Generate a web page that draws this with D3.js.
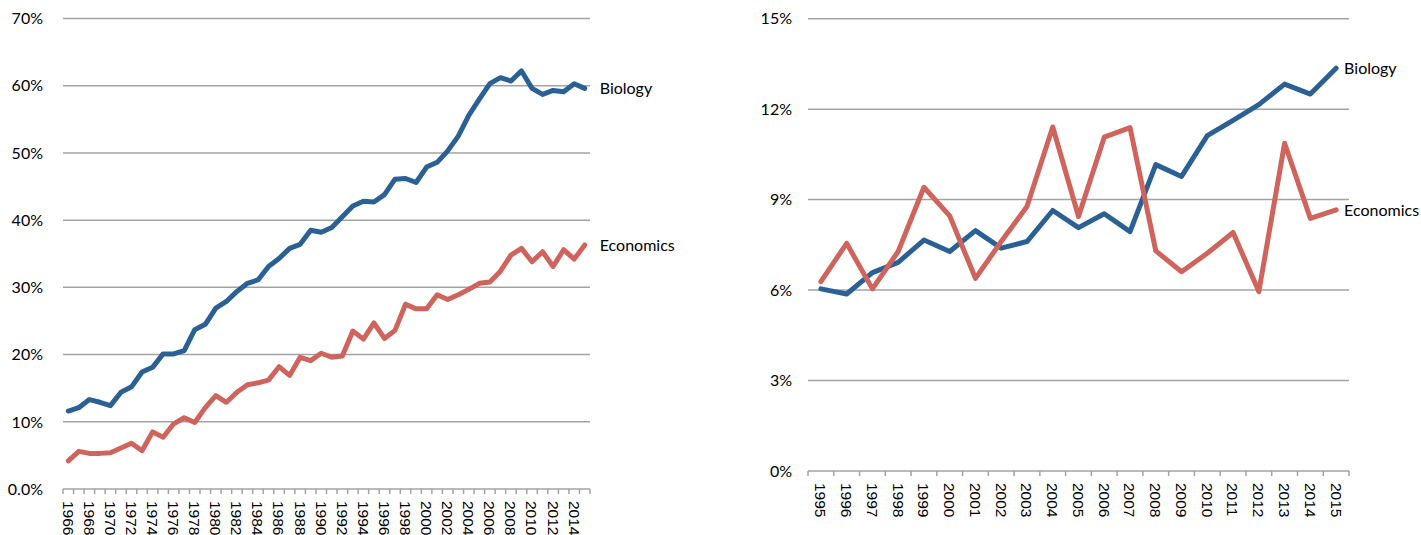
<!DOCTYPE html>
<html>
<head>
<meta charset="utf-8">
<script src="https://cdn.jsdelivr.net/npm/d3@7/dist/d3.min.js"></script>
<style>
  html, body { margin: 0; padding: 0; background: #fff; }
  svg { display: block; }
</style>
</head>
<body>
<svg id="chart" width="1421" height="535"></svg>
<script>
// ---------- Data ----------
const yearsLeft = d3.range(1966, 2016).map(String);
const biologyLeft = [11.6, 12.1, 13.3, 12.9, 12.4, 14.4, 15.2, 17.4, 18.1, 20.1,
  20.1, 20.6, 23.7, 24.5, 26.9, 27.9, 29.4, 30.6, 31.1, 33.1,
  34.3, 35.8, 36.4, 38.5, 38.2, 38.9, 40.5, 42.1, 42.8, 42.7,
  43.8, 46.1, 46.2, 45.6, 47.9, 48.6, 50.3, 52.5, 55.6, 58.0,
  60.3, 61.2, 60.7, 62.2, 59.6, 58.7, 59.3, 59.1, 60.3, 59.6];
const economicsLeft = [4.2, 5.6, 5.3, 5.3, 5.4, 6.1, 6.8, 5.7, 8.5, 7.7,
  9.7, 10.6, 9.9, 12.1, 13.9, 12.9, 14.4, 15.5, 15.8, 16.2,
  18.2, 16.9, 19.6, 19.1, 20.2, 19.6, 19.8, 23.5, 22.3, 24.7,
  22.4, 23.6, 27.5, 26.8, 26.8, 28.9, 28.2, 28.9, 29.7, 30.6,
  30.8, 32.4, 34.8, 35.8, 33.8, 35.3, 33.1, 35.6, 34.2, 36.3];
const yTicksLeft = [0, 10, 20, 30, 40, 50, 60, 70];
const yTickLabelsLeft = ["0.0%", "10%", "20%", "30%", "40%", "50%", "60%", "70%"];
const xTickLabelsLeft = yearsLeft.filter((d, i) => i % 2 === 0);

const yearsRight = d3.range(1995, 2016).map(String);
const biologyRight = [6.04, 5.87, 6.58, 6.92, 7.66, 7.28, 7.97, 7.39, 7.61, 8.64,
  8.07, 8.53, 7.94, 10.16, 9.77, 11.12, 11.63, 12.15, 12.83, 12.5, 13.36];
const economicsRight = [6.28, 7.55, 6.04, 7.28, 9.41, 8.46, 6.39, 7.61, 8.77, 11.41,
  8.44, 11.07, 11.39, 7.30, 6.61, 7.22, 7.91, 5.95, 10.87, 8.38, 8.66];
const yTicksRight = [0, 3, 6, 9, 12, 15];
const yTickLabelsRight = ["0%", "3%", "6%", "9%", "12%", "15%"];
const xTickLabelsRight = yearsRight;

const seriesNames = ["Biology", "Economics"];

// ---------- Style ----------
const COLORS = { Biology: "#2b6094", Economics: "#cf645c" };
const GRID = "#a3a3a3";
const LABEL_FONT = "Lato, 'Noto Sans', sans-serif";
const TICK_FONT = "'Liberation Sans', Arial, sans-serif";

const svg = d3.select("#chart");

function drawPanel(cfg) {
  const g = svg.append("g");
  const x = d3.scaleBand().domain(cfg.years).range([cfg.x0, cfg.x1]).padding(0);
  const y = d3.scaleLinear().domain([0, cfg.yMax]).range([cfg.y0, cfg.y1]);
  const cx = d => x(d) + x.bandwidth() / 2;

  // gridlines
  g.selectAll("line.grid").data(cfg.yTicks).enter().append("line")
    .attr("x1", cfg.x0).attr("x2", cfg.x1)
    .attr("y1", d => y(d)).attr("y2", d => y(d))
    .attr("stroke", GRID).attr("stroke-width", 1.5);

  // y labels
  g.selectAll("text.ylab").data(cfg.yTicks).enter().append("text")
    .attr("x", cfg.yLabelX).attr("y", d => y(d))
    .attr("dy", "0.36em")
    .attr("text-anchor", "end")
    .attr("font-family", LABEL_FONT).attr("font-size", 16)
    .attr("fill", "#000")
    .text((d, i) => cfg.yTickLabels[i]);

  // x tick marks at band boundaries
  const bounds = cfg.years.map(d => x(d)).concat([cfg.x1]);
  g.selectAll("line.xt").data(bounds).enter().append("line")
    .attr("x1", d => d).attr("x2", d => d)
    .attr("y1", y(0)).attr("y2", y(0) + cfg.tickLen)
    .attr("stroke", GRID).attr("stroke-width", 1.5);

  // x labels
  g.selectAll("text.xlab").data(cfg.xTickLabels).enter().append("text")
    .attr("transform", d => `translate(${cx(d)},${y(0) + 12}) rotate(90)`)
    .attr("dy", "0.36em")
    .attr("text-anchor", "start")
    .attr("font-family", TICK_FONT).attr("font-size", 15.5)
    .attr("fill", "#000")
    .text(d => d);

  // lines
  const line = d3.line().x((d, i) => cx(cfg.years[i])).y(d => y(d));
  seriesNames.forEach(name => {
    const vals = cfg.series[name];
    g.append("path").datum(vals)
      .attr("d", line)
      .attr("fill", "none")
      .attr("stroke", COLORS[name])
      .attr("stroke-width", 5)
      .attr("stroke-linejoin", "round")
      .attr("stroke-linecap", "round");
    const last = vals[vals.length - 1];
    g.append("text")
      .attr("x", cx(cfg.years[cfg.years.length - 1]) + cfg.labelOffset)
      .attr("y", y(last))
      .attr("dy", "0.36em")
      .attr("font-family", LABEL_FONT).attr("font-size", 16)
      .attr("fill", "#000")
      .text(name);
  });
}

drawPanel({
  years: yearsLeft, x0: 63, x1: 590, y0: 489, y1: 18.5, yMax: 70,
  yTicks: yTicksLeft, yTickLabels: yTickLabelsLeft, xTickLabels: xTickLabelsLeft,
  yLabelX: 43, tickLen: 5, labelOffset: 15,
  series: { Biology: biologyLeft, Economics: economicsLeft }
});

drawPanel({
  years: yearsRight, x0: 808, x1: 1349, y0: 471, y1: 18.7, yMax: 15,
  yTicks: yTicksRight, yTickLabels: yTickLabelsRight, xTickLabels: xTickLabelsRight,
  yLabelX: 792, tickLen: 5, labelOffset: 8,
  series: { Biology: biologyRight, Economics: economicsRight }
});
</script>
</body>
</html>
